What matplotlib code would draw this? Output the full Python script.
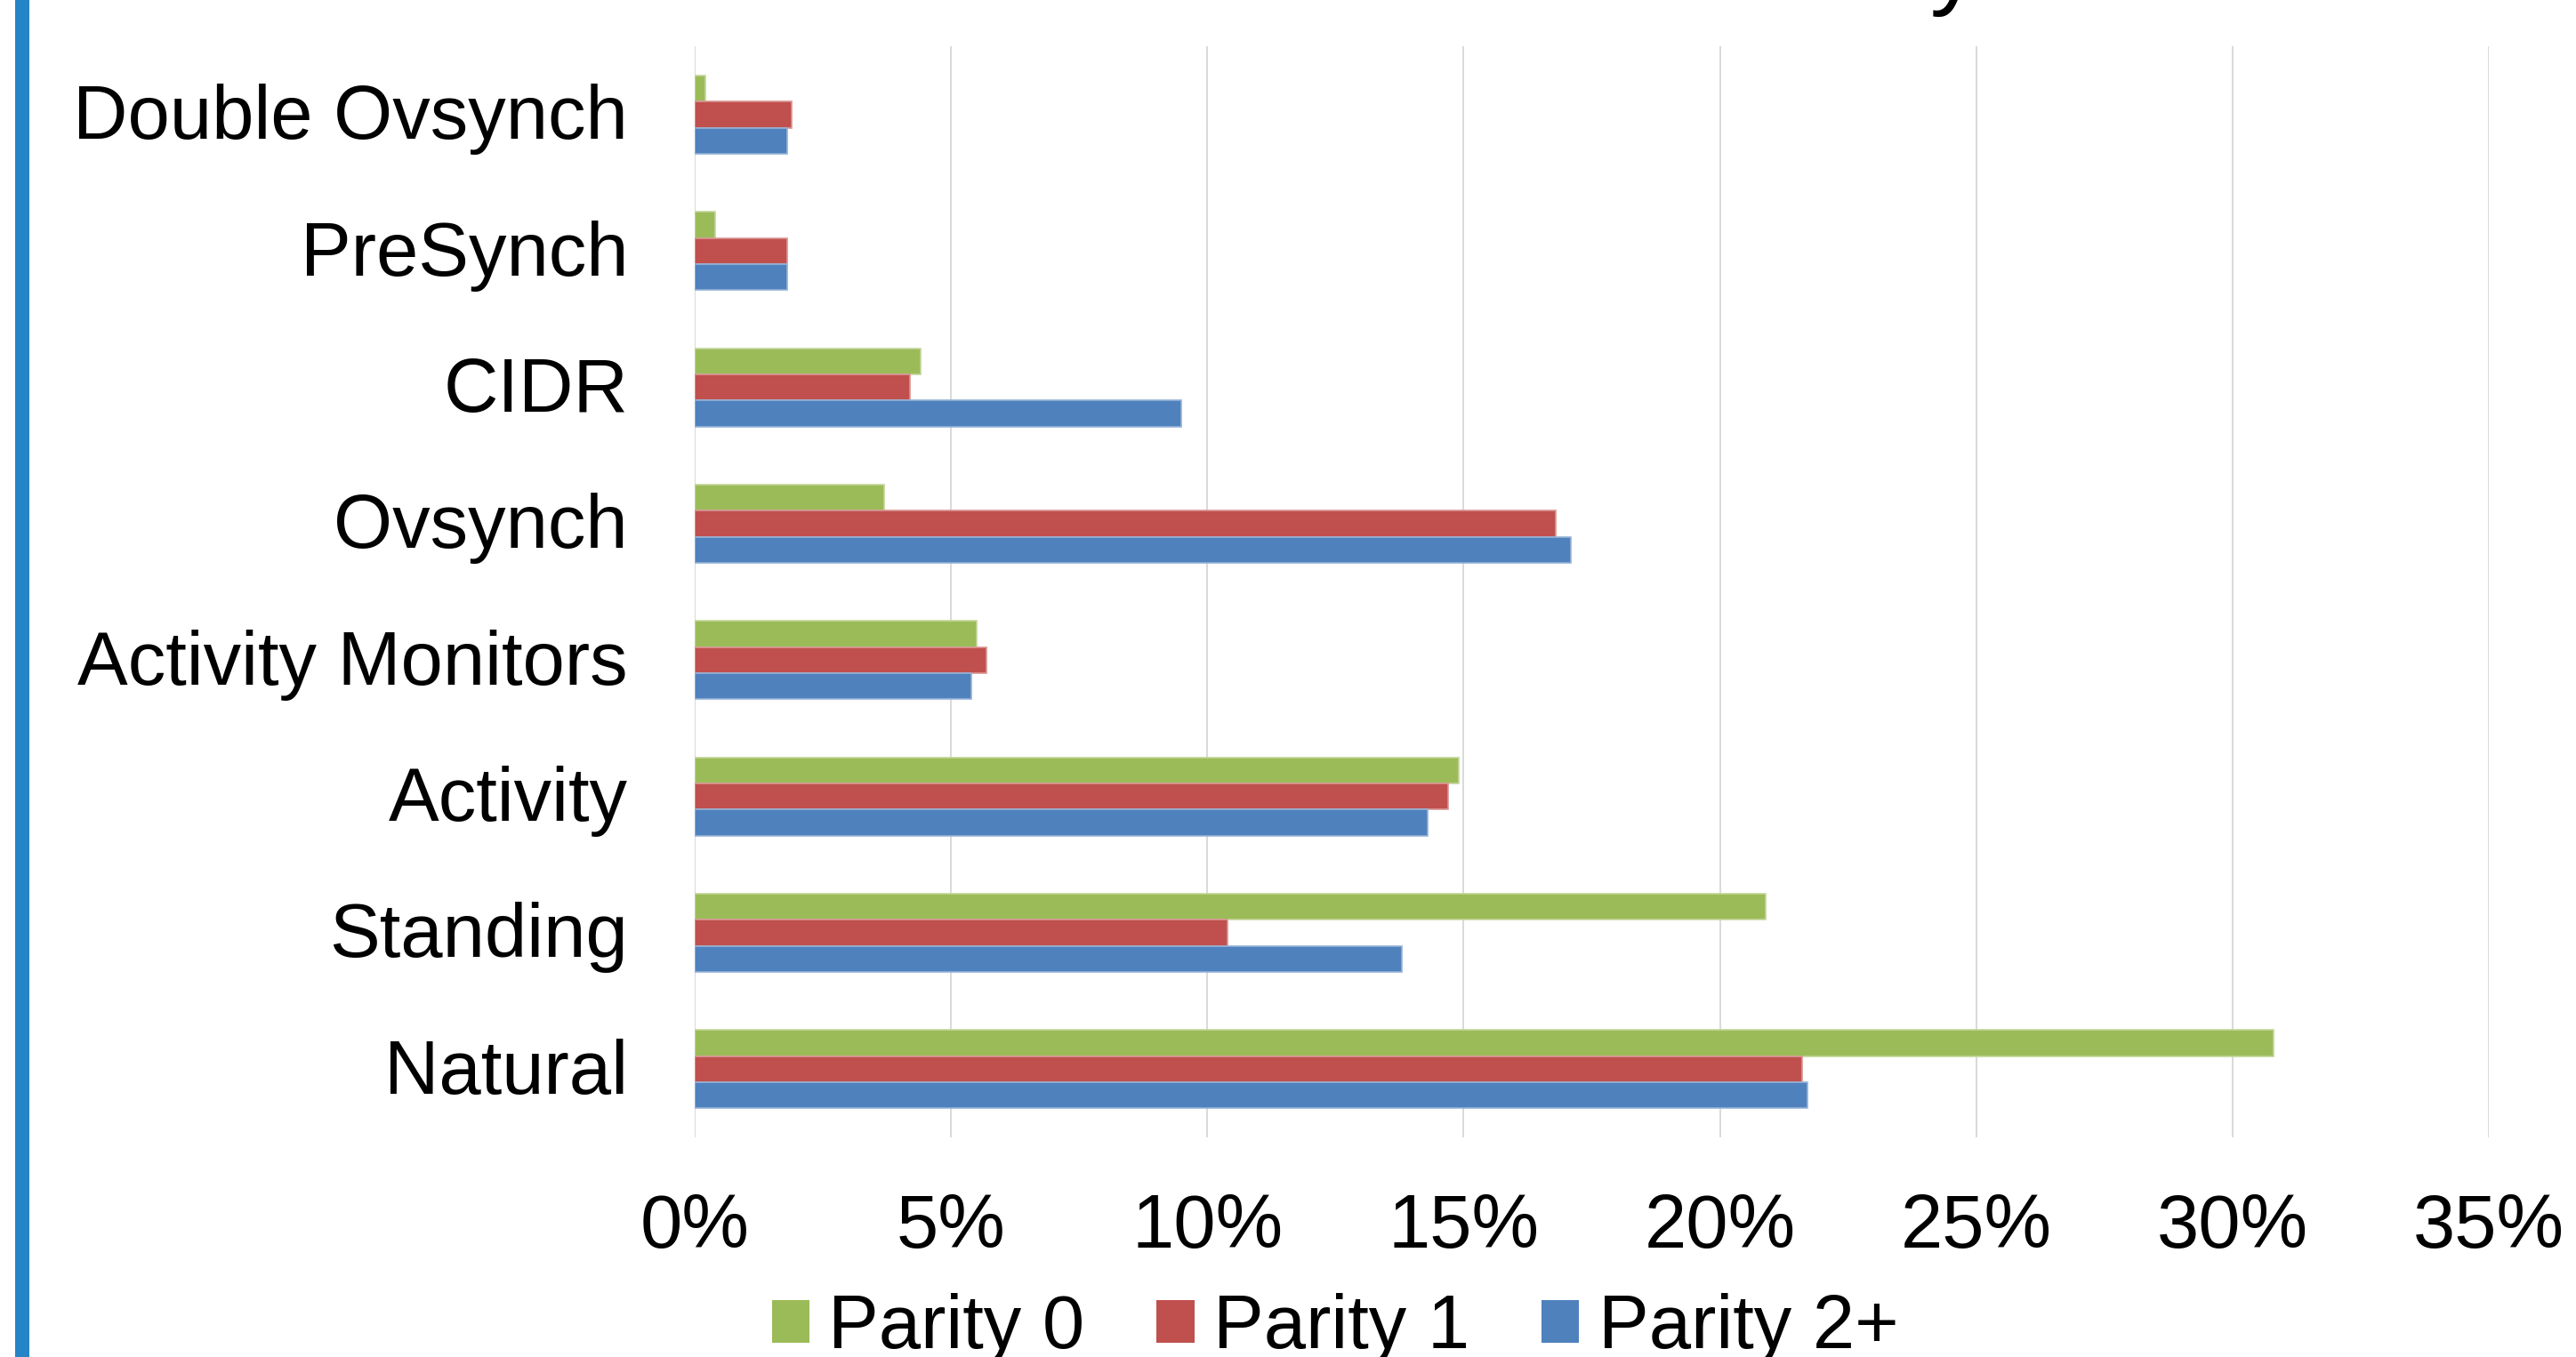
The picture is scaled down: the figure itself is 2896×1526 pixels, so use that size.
import matplotlib
matplotlib.use("Agg")
import matplotlib.pyplot as plt
import matplotlib.transforms as mtransforms
from matplotlib.patches import Patch, Rectangle
import numpy as np

plt.rcParams['font.family'] = ['Liberation Sans', 'DejaVu Sans']

# Breeding / heat-detection methods, top to bottom
methods = ["Double Ovsynch", "PreSynch", "CIDR", "Ovsynch",
           "Activity Monitors", "Activity", "Standing", "Natural"]

# Share of cows (%) for each parity group
parity_0 = [0.2, 0.4, 4.4, 3.7, 5.5, 14.9, 20.9, 30.8]
parity_1 = [1.9, 1.8, 4.2, 16.8, 5.7, 14.7, 10.4, 21.6]
parity_2 = [1.8, 1.8, 9.5, 17.1, 5.4, 14.3, 13.8, 21.7]

series_names = ["Parity 0", "Parity 1", "Parity 2+"]
series_colors = ["#9BBB59", "#C0504D", "#4F81BD"]
edge_colors = ["#C3D69B", "#D99694", "#95B3D7"]

xticks = [0, 5, 10, 15, 20, 25, 30, 35]
xtick_labels = ["0%", "5%", "10%", "15%", "20%", "25%", "30%", "35%"]

W, H, DPI = 2896, 1526, 200
fig = plt.figure(figsize=(W / DPI, H / DPI), dpi=DPI)
fig.patch.set_facecolor("white")

ax = fig.add_axes([781 / W, 1 - 1279 / H, (2798 - 781) / W, (1279 - 52.3) / H])

y = np.arange(len(methods))
bar_h = 0.191
for k, (vals, col, ec) in enumerate(zip([parity_0, parity_1, parity_2],
                                         series_colors, edge_colors)):
    ax.barh(y + (k - 1) * bar_h, vals, height=bar_h, color=col,
            edgecolor=ec, linewidth=0.6, label=series_names[k], zorder=3)

ax.set_ylim(len(methods) - 0.5, -0.5)
ax.set_xlim(0, 35)
ax.set_xticks(xticks)
ax.set_xticklabels(xtick_labels)
ax.set_yticks(y)
ax.set_yticklabels(methods)

fs = 30.6
ax.tick_params(axis='x', length=0, pad=22.5, labelsize=fs)
ax.tick_params(axis='y', length=0, pad=27, labelsize=fs)
for s in ax.spines.values():
    s.set_visible(False)
ax.grid(axis='x', color="#D9D9D9", linewidth=0.7, zorder=0)
ax.set_axisbelow(True)

# Nudge the category labels up slightly so they sit on the group centres
nudge = mtransforms.ScaledTranslation(0, 3.5 / DPI, fig.dpi_scale_trans)
for lbl in ax.get_yticklabels():
    lbl.set_transform(lbl.get_transform() + nudge)

# Legend along the bottom edge
handles = [Patch(facecolor=c, edgecolor='none') for c in series_colors]
fig.legend(handles, series_names, loc='center', ncol=3,
           bbox_to_anchor=(1501 / W, 1 - 1494 / H), frameon=False,
           fontsize=fs, handlelength=0.5, handleheight=0.5,
           handletextpad=0.25, columnspacing=0.95, borderpad=0)

# Accent bar on the left edge
fig.patches.append(Rectangle((17 / W, 0), 16 / W, 1, transform=fig.transFigure,
                             facecolor="#2484C6", edgecolor='none'))

# Title sits above the visible frame; only its descenders reach in
fig.text(2225 / W, 1 + 4 / H, "Estrus Detection Method Used at Each Parity",
         ha='right', va='baseline', fontsize=40)

fig.savefig("out.png", dpi=DPI, facecolor="white")
